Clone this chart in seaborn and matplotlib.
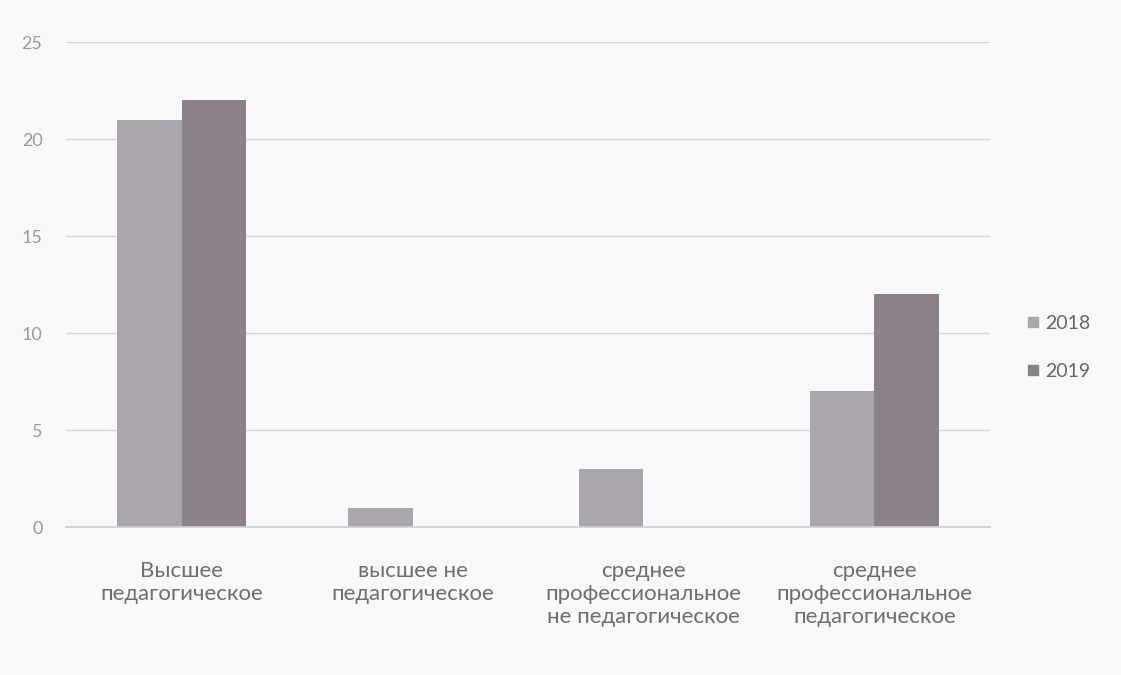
import pandas as pd
import matplotlib.pyplot as plt
import seaborn as sns

# Данные диаграммы
categories = ['Высшее\nпедагогическое', 'высшее не\nпедагогическое',
              'среднее\nпрофессиональное\nне педагогическое',
              'среднее\nпрофессиональное\nпедагогическое']
years = ['2018', '2019']
values_2018 = [21, 1, 3, 7]
values_2019 = [22, 0, 0, 12]
colors = ['#aba6ad', '#8a8189']

df = pd.DataFrame({
    'category': categories * 2,
    'year': [years[0]] * 4 + [years[1]] * 4,
    'value': values_2018 + values_2019,
})

sns.set_theme(style='white')
plt.rcParams['font.family'] = ['Lato', 'DejaVu Sans']

fig = plt.figure(figsize=(11.21, 6.75), dpi=100, facecolor='#f8f8fa')
ax = fig.add_axes([0.059, 0.219, 0.824, 0.7185])
ax.set_facecolor('#f8f8fa')

sns.barplot(data=df, x='category', y='value', hue='year', palette=colors,
            width=0.56, saturation=1, linewidth=0, ax=ax, legend=False)

ax.set_ylim(0, 25)
ax.set_yticks(range(0, 26, 5))
ax.yaxis.grid(True, color='#d6d6da', linewidth=1)
ax.set_axisbelow(True)
for s in ['top', 'right', 'left']:
    ax.spines[s].set_visible(False)
ax.spines['bottom'].set_color('#d0d0d4')
ax.set_xlabel('')
ax.set_ylabel('')
ax.tick_params(axis='y', colors='#9a9a9a', labelsize=13, length=0, pad=17)
ax.tick_params(axis='x', colors='#6e6e6e', labelsize=16, length=0, pad=24)
for lbl in ax.get_xticklabels():
    lbl.set_linespacing(1.2)

handles = [plt.Line2D([], [], marker='s', linestyle='', color=c, markersize=7)
           for c in colors]
fig.legend(handles, years, loc='center left', bbox_to_anchor=(0.915, 0.485),
           frameon=False, fontsize=14, labelcolor='#666666',
           handlelength=0.7, handletextpad=0.3, labelspacing=1.6,
           borderpad=0, borderaxespad=0)

fig.savefig('out.png', dpi=100, facecolor=fig.get_facecolor())
